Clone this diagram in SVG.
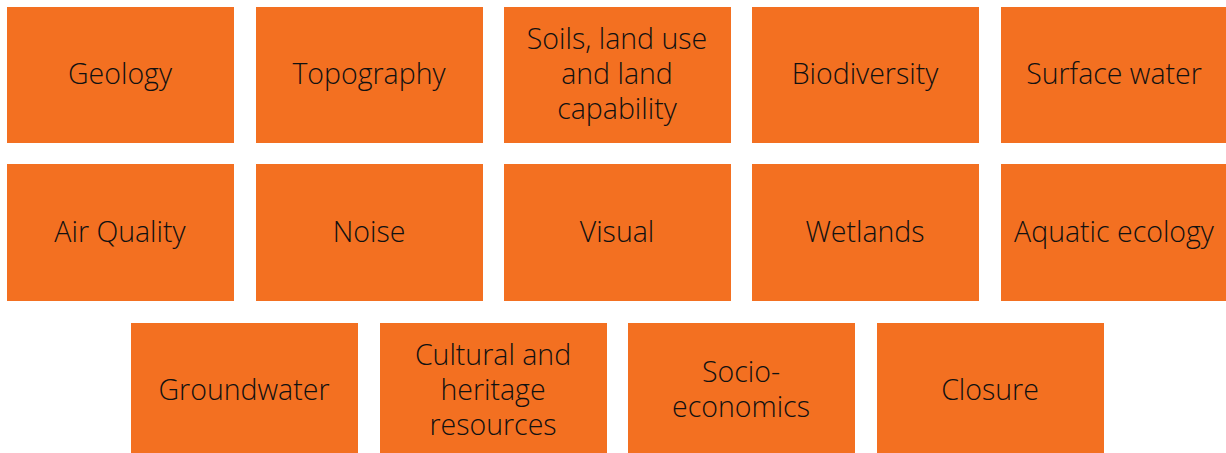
<svg xmlns="http://www.w3.org/2000/svg" width="1226" height="453" viewBox="0 0 1226 453">
<style>
rect{fill:#F37021}
text{font-family:"Open Sans","Liberation Sans",sans-serif;font-weight:300;font-size:28.5px;fill:#111;text-anchor:middle;dominant-baseline:central}
</style>
<rect width="1226" height="453" style="fill:#fff"/>
<g id="n1"><rect x="7" y="7" width="227" height="136"/><text x="120" y="73">Geology</text></g>
<g id="n2"><rect x="256" y="7" width="227" height="136"/><text x="369" y="73">Topography</text></g>
<g id="n3"><rect x="504" y="7" width="227" height="136"/><text x="617" y="38">Soils, land use</text><text x="617" y="73">and land</text><text x="617" y="108">capability</text></g>
<g id="n4"><rect x="752" y="7" width="227" height="136"/><text x="865" y="73">Biodiversity</text></g>
<g id="n5"><rect x="1001" y="7" width="227" height="136"/><text x="1114" y="73">Surface water</text></g>
<g id="n6"><rect x="7" y="164" width="227" height="137"/><text x="120" y="231">Air Quality</text></g>
<g id="n7"><rect x="256" y="164" width="227" height="137"/><text x="369" y="231">Noise</text></g>
<g id="n8"><rect x="504" y="164" width="227" height="137"/><text x="617" y="231">Visual</text></g>
<g id="n9"><rect x="752" y="164" width="227" height="137"/><text x="865" y="231">Wetlands</text></g>
<g id="n10"><rect x="1001" y="164" width="227" height="137"/><text x="1114" y="231">Aquatic ecology</text></g>
<g id="n11"><rect x="131" y="323" width="227" height="137"/><text x="244" y="389">Groundwater</text></g>
<g id="n12"><rect x="380" y="323" width="227" height="137"/><text x="493" y="354">Cultural and</text><text x="493" y="389">heritage</text><text x="493" y="424">resources</text></g>
<g id="n13"><rect x="628" y="323" width="227" height="137"/><text x="741" y="371">Socio-</text><text x="741" y="406">economics</text></g>
<g id="n14"><rect x="877" y="323" width="227" height="137"/><text x="990" y="389">Closure</text></g>
<g id="connectors"></g>
</svg>
